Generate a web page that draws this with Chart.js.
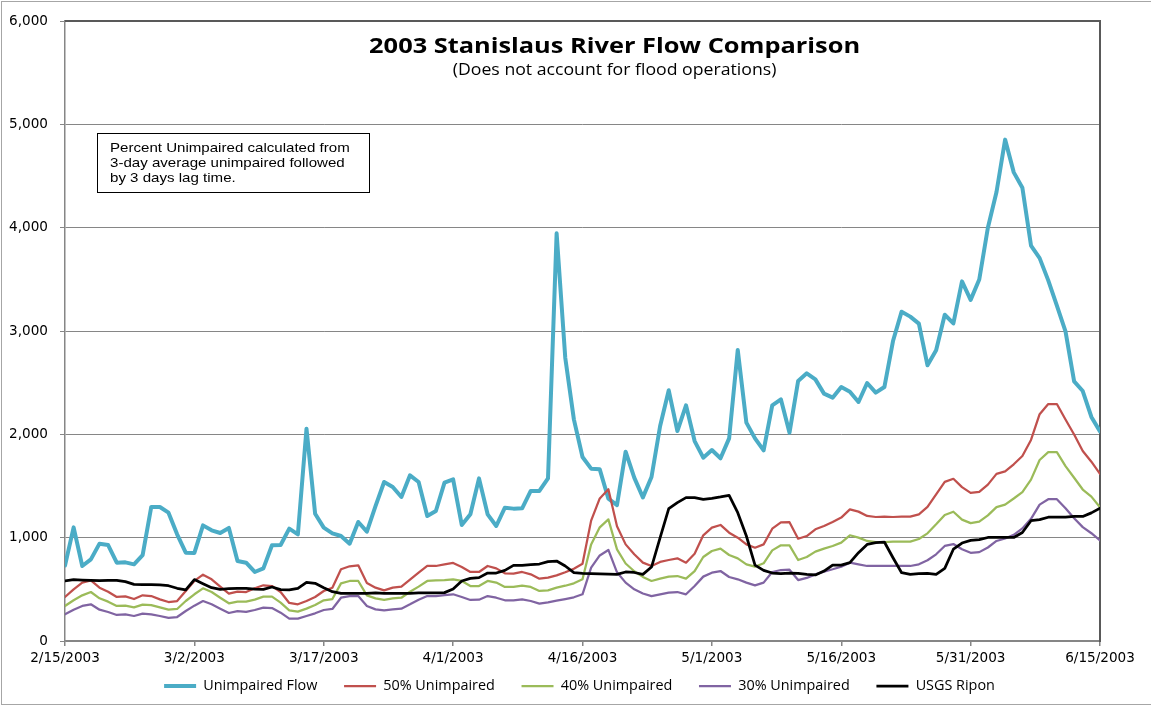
<!DOCTYPE html>
<html>
<head>
<meta charset="utf-8">
<title>2003 Stanislaus River Flow Comparison</title>
<script src="https://cdn.jsdelivr.net/npm/chart.js@4.4.1/dist/chart.umd.min.js"></script>
<style>
  html, body { margin: 0; padding: 0; background: #ffffff; }
  canvas { display: block; }
</style>
</head>
<body>
<canvas id="grafico" width="1151" height="706"></canvas>
<script>
// daily values, 2/15/2003 .. 6/15/2003 (121 days), cfs
const xTickLabels = ['2/15/2003', '3/2/2003', '3/17/2003', '4/1/2003', '4/16/2003',
  '5/1/2003', '5/16/2003', '5/31/2003', '6/15/2003'];

const unimpairedFlow = [
  730, 1100, 726, 790, 942, 929, 758, 761, 742, 832,
  1297, 1297, 1242, 1032, 855, 852, 1119, 1071, 1045, 1094,
  774, 758, 668, 703, 926, 929, 1087, 1032, 2055, 1232,
  1097, 1042, 1016, 942, 1152, 1058, 1306, 1539, 1490, 1394,
  1603, 1539, 1210, 1258, 1532, 1565, 1123, 1226, 1574, 1226,
  1113, 1290, 1281, 1284, 1452, 1452, 1574, 3945, 2742, 2145,
  1781, 1668, 1661, 1377, 1316, 1832, 1581, 1390, 1587, 2081,
  2426, 2032, 2281, 1935, 1774, 1848, 1768, 1961, 2816, 2113,
  1961, 1845, 2281, 2339, 2016, 2516, 2590, 2532, 2394, 2355,
  2458, 2413, 2313, 2497, 2403, 2458, 2903, 3187, 3139, 3071,
  2668, 2813, 3157, 3073, 3480, 3301, 3498, 3999, 4345, 4852,
  4535, 4386, 3827, 3705, 3490, 3245, 2996, 2512, 2419, 2168,
  2028
];

const unimpaired50 = [
  426, 500, 565, 587, 516, 477, 426, 432, 406, 442,
  435, 403, 377, 387, 484, 581, 642, 597, 526, 458,
  477, 474, 510, 539, 532, 474, 368, 355, 387, 426,
  484, 516, 694, 723, 732, 561, 516, 490, 516, 526,
  594, 661, 726, 726, 742, 755, 716, 668, 668, 726,
  703, 655, 652, 668, 645, 603, 613, 635, 665, 700,
  748, 1165, 1380, 1468, 1110, 935, 839, 758, 726, 765,
  784, 800, 758, 845, 1023, 1097, 1123, 1048, 1000, 935,
  903, 935, 1087, 1148, 1150, 990, 1016, 1081, 1113, 1152,
  1194, 1274, 1252, 1210, 1200, 1203, 1200, 1203, 1203, 1226,
  1297, 1419, 1540, 1570, 1489, 1433, 1443, 1513, 1617, 1641,
  1710, 1790, 1946, 2195, 2293, 2293, 2143, 1998, 1839, 1735,
  1617
];

const unimpaired40 = [
  339, 394, 442, 474, 413, 381, 339, 342, 326, 352,
  348, 326, 303, 310, 387, 452, 510, 474, 419, 365,
  381, 381, 400, 429, 429, 371, 297, 284, 313, 348,
  394, 406, 558, 581, 581, 442, 413, 397, 413, 419,
  477, 526, 581, 587, 590, 597, 581, 532, 532, 581,
  565, 523, 523, 535, 523, 484, 490, 516, 535, 558,
  597, 935, 1100, 1177, 887, 750, 675, 620, 581, 603,
  623, 629, 603, 677, 813, 871, 894, 832, 800, 742,
  719, 752, 877, 926, 925, 784, 813, 865, 894, 919,
  952, 1023, 1000, 968, 958, 958, 961, 961, 961, 987,
  1042, 1129, 1220, 1251, 1175, 1141, 1155, 1216, 1296, 1320,
  1379, 1441, 1562, 1752, 1828, 1828, 1693, 1580, 1466, 1397,
  1293
];

const unimpaired30 = [
  258, 303, 339, 355, 303, 281, 252, 258, 242, 265,
  258, 242, 223, 232, 290, 342, 387, 355, 313, 271,
  290, 281, 300, 323, 319, 274, 216, 216, 242, 268,
  300, 310, 419, 435, 435, 339, 306, 297, 306, 313,
  355, 400, 435, 435, 445, 452, 426, 397, 400, 435,
  419, 394, 394, 403, 387, 361, 374, 390, 406, 423,
  452, 710, 828, 881, 665, 565, 500, 460, 435, 452,
  468, 474, 452, 532, 623, 661, 677, 619, 597, 565,
  539, 565, 668, 687, 690, 590, 610, 645, 671, 694,
  719, 758, 742, 726, 726, 726, 726, 726, 726, 742,
  781, 839, 920, 938, 888, 854, 860, 905, 968, 992,
  1027, 1089, 1182, 1320, 1372, 1372, 1285, 1188, 1102, 1043,
  974
];

const usgsRipon = [
  581, 594, 590, 587, 584, 587, 587, 574, 548, 545,
  545, 542, 535, 510, 494, 594, 555, 516, 500, 506,
  510, 510, 503, 500, 523, 497, 494, 510, 568, 558,
  516, 477, 461, 461, 461, 461, 465, 461, 461, 461,
  461, 465, 465, 465, 468, 503, 581, 606, 613, 658,
  658, 684, 732, 732, 740, 745, 768, 774, 726, 661,
  655, 652, 650, 648, 645, 668, 663, 645, 716, 1000,
  1281, 1339, 1387, 1387, 1371, 1381, 1394, 1410, 1242, 1016,
  735, 684, 658, 652, 658, 655, 645, 639, 677, 735,
  735, 758, 855, 935, 952, 958, 806, 661, 645, 652,
  655, 645, 703, 888, 948, 974, 981, 1002, 1002, 1002,
  1002, 1050, 1164, 1174, 1198, 1198, 1198, 1205, 1205, 1240,
  1285
];

const seriesNames = ['Unimpaired Flow', '50% Unimpaired', '40% Unimpaired', '30% Unimpaired', 'USGS Ripon'];
const seriesColors = ['#4BACC6', '#C0504D', '#9BBB59', '#8064A2', '#000000'];
const seriesWidths = [4, 2.25, 2.25, 2.25, 2.75];
const seriesData = [unimpairedFlow, unimpaired50, unimpaired40, unimpaired30, usgsRipon];

const noteLines = ['Percent Unimpaired calculated from', '3-day average unimpaired followed', 'by 3 days lag time.'];

function paraPontos(valores) {
  return valores.map((v, i) => ({ x: i, y: v }));
}

// texto esticado na horizontal, como no original
function textoLargo(ctx, texto, x, y, escala) {
  ctx.save();
  ctx.translate(x, y);
  ctx.scale(escala, 1);
  ctx.fillText(texto, 0, 0);
  ctx.restore();
}

// title, note box and frame drawn on the canvas
const extrasPlugin = {
  id: 'extras',
  afterDraw(chart) {
    const ctx = chart.ctx;
    const area = chart.chartArea;
    ctx.save();

    // outer frame
    ctx.strokeStyle = '#a6a6a6';
    ctx.lineWidth = 1;
    ctx.strokeRect(1.5, 1.5, chart.width + 2, chart.height - 3);

    // plot area top border
    ctx.strokeStyle = '#595959';
    ctx.lineWidth = 2;
    ctx.beginPath();
    ctx.moveTo(area.left, area.top);
    ctx.lineTo(area.right + 1, area.top);
    ctx.stroke();

    // title
    const cx = area.left + area.width * 0.531;
    ctx.fillStyle = '#000000';
    ctx.textAlign = 'center';
    ctx.textBaseline = 'alphabetic';
    ctx.font = 'bold 22px "Open Sans"';
    textoLargo(ctx, '2003 Stanislaus River Flow Comparison', cx, area.top + 32, 1.153);
    ctx.font = '15.5px "Open Sans"';
    textoLargo(ctx, '(Does not account for flood operations)', cx, area.top + 54, 1.14);

    // note box
    ctx.fillStyle = '#ffffff';
    ctx.fillRect(97.5, 133.5, 272, 59);
    ctx.strokeStyle = '#000000';
    ctx.lineWidth = 1;
    ctx.strokeRect(97.5, 133.5, 272, 59);
    ctx.fillStyle = '#000000';
    ctx.textAlign = 'left';
    ctx.font = '13px "Liberation Sans"';
    noteLines.forEach((linha, i) => {
      textoLargo(ctx, linha, 110, 151.5 + i * 15, 1.16);
    });

    ctx.restore();
  }
};

const datasets = seriesData.map((valores, i) => ({
  label: seriesNames[i],
  data: paraPontos(valores),
  borderColor: seriesColors[i],
  backgroundColor: seriesColors[i],
  borderWidth: seriesWidths[i],
  pointRadius: 0,
  pointHoverRadius: 0,
  tension: 0,
  borderJoinStyle: 'round',
  borderCapStyle: 'round',
  order: seriesData.length - i
}));

const ctx = document.getElementById('grafico').getContext('2d');
const chart = new Chart(ctx, {
  type: 'line',
  data: { datasets: datasets },
  options: {
    responsive: false,
    animation: false,
    devicePixelRatio: 1,
    layout: { padding: { top: 21, left: 8, right: 0, bottom: 2.8 } },
    scales: {
      x: {
        type: 'linear',
        min: 0,
        max: 120,
        afterFit(scale) { scale.height = 29.8; },
        ticks: {
          stepSize: 15,
          autoSkip: false,
          maxRotation: 0,
          padding: 4,
          color: '#000000',
          font: { family: '"DejaVu Sans"', size: 13.6 },
          callback: (v) => xTickLabels[Math.round(v / 15)]
        },
        grid: {
          display: true,
          drawOnChartArea: false,
          drawTicks: true,
          tickLength: 5,
          color: '#868686',
          lineWidth: 1.5
        },
        border: { display: true, color: '#868686', width: 1.5 }
      },
      y: {
        min: 0,
        max: 6000,
        afterFit(scale) { scale.width = 57; },
        ticks: {
          stepSize: 1000,
          padding: 12,
          color: '#000000',
          font: { family: '"DejaVu Sans"', size: 13.6 },
          callback: (v) => v.toLocaleString('en-US')
        },
        grid: {
          color: '#868686',
          lineWidth: 1,
          tickLength: 5
        },
        border: { display: true, color: '#868686', width: 1.5 }
      },
      y2: {
        position: 'right',
        display: true,
        afterFit(scale) { scale.width = 51; },
        ticks: { display: false },
        grid: { display: false },
        border: { display: true, color: '#595959', width: 2 }
      }
    },
    plugins: {
      legend: {
        position: 'bottom',
        labels: {
          usePointStyle: true,
          pointStyle: 'line',
          pointStyleWidth: 32,
          padding: 8,
          color: '#000000',
          font: { family: '"Open Sans"', size: 14.4 },
          // espaço extra entre os itens sem aumentar a altura da legenda
          generateLabels(chart) {
            const itens = Chart.defaults.plugins.legend.labels.generateLabels(chart);
            itens.forEach((item) => {
              if (item.datasetIndex < seriesNames.length - 1) item.text += '\u00A0'.repeat(5);
            });
            return itens;
          },
          sort: (a, b) => a.datasetIndex - b.datasetIndex
        }
      },
      tooltip: { enabled: false }
    }
  },
  plugins: [extrasPlugin]
});
</script>
</body>
</html>
